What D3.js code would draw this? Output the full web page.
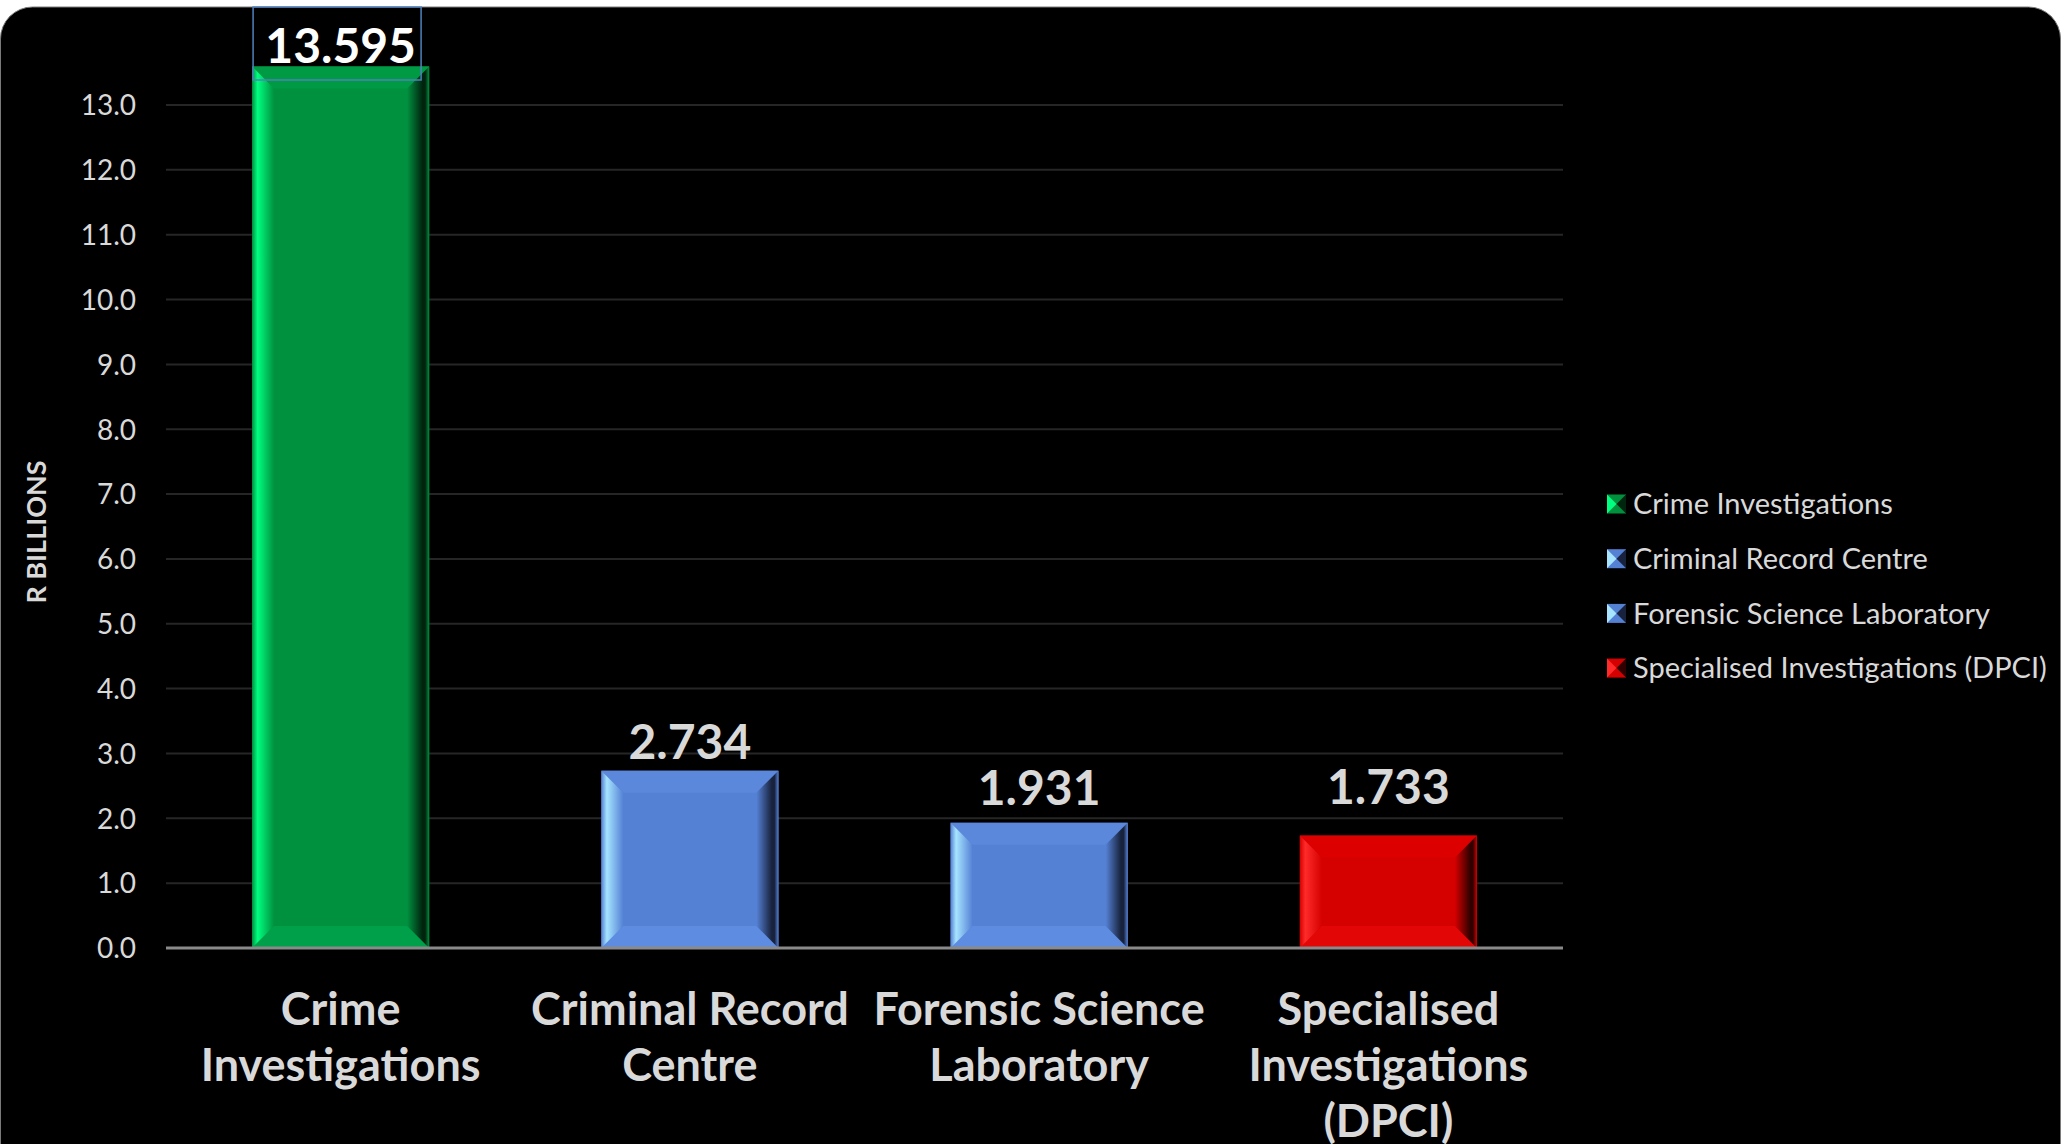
<!DOCTYPE html>
<html>
<head>
<meta charset="utf-8">
<script src="https://cdn.jsdelivr.net/npm/d3@7"></script>
<style>
  body { margin: 0; background: #fff; }
  svg { display: block; font-family: Lato, "Open Sans", sans-serif; }
</style>
</head>
<body>
<script>
const width = 2063,
      height = 1144;

// data
const categories = ["Crime Investigations", "Criminal Record Centre", "Forensic Science Laboratory", "Specialised Investigations (DPCI)"];
const labelLines = [["Crime", "Investigations"], ["Criminal Record", "Centre"], ["Forensic Science", "Laboratory"], ["Specialised", "Investigations", "(DPCI)"]];
const values = [13.595, 2.734, 1.931, 1.733];
const valueLabels = ["13.595", "2.734", "1.931", "1.733"];
const yTicks = [0, 1, 2, 3, 4, 5, 6, 7, 8, 9, 10, 11, 12, 13];

// label gap above bar top (labels were dragged by hand in the original)
const labelGap = [3, 12, 18, 32];

// colours per bar: face, light edge, dark edge
const palette = [
  {face: "#00913f", light: "#00ff80", dark: "#00240e", top: "#009a44", bottom: "#00a04a"},
  {face: "#5581d5", light: "#a6e4ff", dark: "#18223c", top: "#5b88da", bottom: "#5e8ce0"},
  {face: "#5581d5", light: "#a6e4ff", dark: "#18223c", top: "#5b88da", bottom: "#5e8ce0"},
  {face: "#d50000", light: "#ff2a2a", dark: "#300000", top: "#dc0000", bottom: "#e20606"}
];

const svg = d3.select("body")
              .append("svg")
              .attr("width", width)
              .attr("height", height);

const defs = svg.append("defs");
palette.forEach(function(c, i) {
    var gl = defs.append("linearGradient").attr("id", "gl" + i).attr("x1", 0).attr("x2", 1).attr("y1", 0).attr("y2", 0);
    gl.append("stop").attr("offset", "0%").attr("stop-color", c.face);
    gl.append("stop").attr("offset", "25%").attr("stop-color", c.light);
    gl.append("stop").attr("offset", "100%").attr("stop-color", c.face);
    var gr = defs.append("linearGradient").attr("id", "gr" + i).attr("x1", 0).attr("x2", 1).attr("y1", 0).attr("y2", 0);
    gr.append("stop").attr("offset", "0%").attr("stop-color", c.face);
    gr.append("stop").attr("offset", "70%").attr("stop-color", c.dark);
    gr.append("stop").attr("offset", "82%").attr("stop-color", c.dark);
    gr.append("stop").attr("offset", "100%").attr("stop-color", c.face);
});

// black panel
svg.append("rect")
   .attr("x", 0.5).attr("y", 7)
   .attr("width", 2060).attr("height", 1200)
   .attr("rx", 32)
   .attr("fill", "#000")
   .attr("stroke", "#7a7a7a")
   .attr("stroke-width", 1);

const x = d3.scaleBand()
            .domain(categories)
            .range([166, 1563])
            .paddingInner(0.493)
            .paddingOuter(0.2465);

const y = d3.scaleLinear()
            .domain([0, 13])
            .range([948, 105]);

// gridlines
svg.append("g")
   .selectAll("line")
   .data(yTicks.slice(1))
   .enter()
   .append("line")
   .attr("x1", 166).attr("x2", 1563)
   .attr("y1", d => y(d)).attr("y2", d => y(d))
   .attr("stroke", "#262626")
   .attr("stroke-width", 2);

// y axis labels
const yAxis = svg.append("g")
   .attr("transform", "translate(148,0)")
   .call(d3.axisLeft(y).tickValues(yTicks).tickFormat(d3.format(".1f")).tickSize(0).tickPadding(12));
yAxis.select(".domain").remove();
yAxis.selectAll("text")
     .attr("fill", "#d9d9d9")
     .attr("font-size", 28)
     .attr("font-family", "Lato, sans-serif")
     .attr("dy", "0.35em");

// axis title
svg.append("text")
   .attr("transform", "translate(46,532) rotate(-90)")
   .attr("text-anchor", "middle")
   .attr("fill", "#d9d9d9")
   .attr("font-size", 27)
   .attr("font-weight", "bold")
   .text("R BILLIONS");

// bars with bevel
const bev = 22;
const bars = svg.append("g")
   .selectAll("g")
   .data(values)
   .enter()
   .append("g");

bars.each(function(v, i) {
    var g = d3.select(this),
        x0 = x(categories[i]),
        x1 = x0 + x.bandwidth(),
        y0 = y(v),
        y1 = y(0),
        c = palette[i];
    g.append("rect").attr("x", x0).attr("y", y0).attr("width", x1 - x0).attr("height", y1 - y0).attr("fill", c.face);
    // top
    g.append("polygon").attr("points", [[x0, y0], [x1, y0], [x1 - bev, y0 + bev], [x0 + bev, y0 + bev]].join(" ")).attr("fill", c.top);
    // bottom
    g.append("polygon").attr("points", [[x0, y1], [x1, y1], [x1 - bev, y1 - bev], [x0 + bev, y1 - bev]].join(" ")).attr("fill", c.bottom);
    // left
    g.append("polygon").attr("points", [[x0, y0], [x0 + bev, y0 + bev], [x0 + bev, y1 - bev], [x0, y1]].join(" ")).attr("fill", "url(#gl" + i + ")");
    // right
    g.append("polygon").attr("points", [[x1, y0], [x1 - bev, y0 + bev], [x1 - bev, y1 - bev], [x1, y1]].join(" ")).attr("fill", "url(#gr" + i + ")");
});

// axis line
svg.append("line")
   .attr("x1", 166).attr("x2", 1563)
   .attr("y1", y(0)).attr("y2", y(0))
   .attr("stroke", "#8a8a8a")
   .attr("stroke-width", 3);

// value labels
svg.append("g")
   .selectAll("text")
   .data(values)
   .enter()
   .append("text")
   .attr("x", (d, i) => x(categories[i]) + x.bandwidth() / 2)
   .attr("y", (d, i) => y(d) - labelGap[i])
   .attr("text-anchor", "middle")
   .attr("fill", (d, i) => i == 0 ? "#ffffff" : "#d9d9d9")
   .attr("font-size", 48)
   .attr("font-weight", "bold")
   .text((d, i) => valueLabels[i]);

// selection box left on the first label
svg.append("rect")
   .attr("x", x(categories[0]) + 1).attr("y", 7)
   .attr("width", 168).attr("height", 73)
   .attr("fill", "none")
   .attr("stroke", "#4f81bd")
   .attr("stroke-width", 1.5);

// category labels
const cat = svg.append("g")
   .selectAll("text")
   .data(categories)
   .enter()
   .append("text")
   .attr("x", d => x(d) + x.bandwidth() / 2)
   .attr("y", 1025)
   .attr("text-anchor", "middle")
   .attr("fill", "#d9d9d9")
   .attr("font-size", 45)
   .attr("font-weight", "bold");

cat.selectAll("tspan")
   .data((d, i) => labelLines[i])
   .enter()
   .append("tspan")
   .attr("x", function() { return d3.select(this.parentNode).attr("x"); })
   .attr("dy", (d, j) => j == 0 ? 0 : 56)
   .text(d => d);

// legend
const legend = svg.append("g")
   .selectAll("g")
   .data(categories)
   .enter()
   .append("g")
   .attr("transform", (d, i) => "translate(1607," + (504 + i * 54.7) + ")");

const m = 19;
legend.each(function(d, i) {
    var g = d3.select(this), c = palette[i], h = m / 2;
    g.append("rect").attr("x", 0).attr("y", -h).attr("width", m).attr("height", m).attr("fill", c.face);
    g.append("polygon").attr("points", [[0, -h], [h, 0], [0, h]].join(" ")).attr("fill", c.light);
    g.append("polygon").attr("points", [[m, -h], [h, 0], [m, h]].join(" ")).attr("fill", c.dark);
});

legend.append("text")
   .attr("x", 26)
   .attr("y", 0)
   .attr("dy", "0.35em")
   .attr("fill", "#d9d9d9")
   .attr("font-size", 29)
   .text(d => d);
</script>
</body>
</html>
